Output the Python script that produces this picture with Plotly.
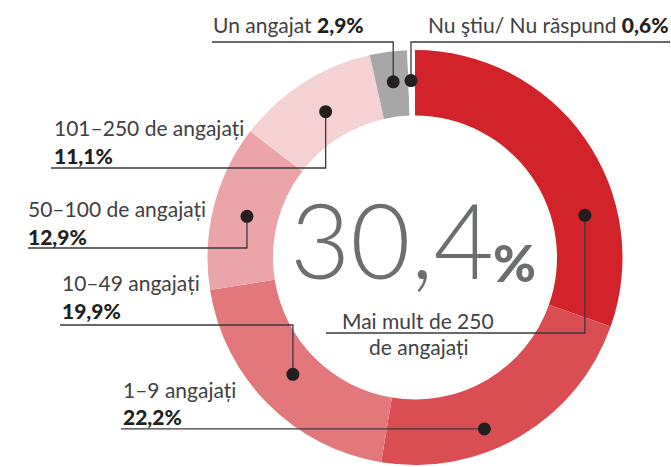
import math
import plotly.graph_objects as go

# ---- data ----
categories = ["Mai mult de 250 de angajați", "1–9 angajați", "10–49 angajați",
              "50–100 de angajați", "101–250 de angajați", "Un angajat", "Nu ştiu/ Nu răspund"]
values = [30.4, 22.2, 19.9, 12.9, 11.1, 2.9, 0.6]
value_labels = ["30,4%", "22,2%", "19,9%", "12,9%", "11,1%", "2,9%", "0,6%"]
colors = ["#d2232a", "#da4d53", "#e3787c", "#eba5a8", "#f4d2d4", "#a7a7a7", "#ffffff"]

# ---- layout constants (pixels) ----
W, H = 671, 467
CX, CY, R_OUT, R_IN = 415, 257.5, 207.5, 142
# callout: fraction along slice, radius of dot, elbow y (None = horizontal only), line end x
dot_frac = [0.695, 0.607, 0.515, 0.49, 0.527, 0.53, 0.4]
dot_rad = [175, 185, 169, 173, 171, 177, 177]
elbow_y = [333, None, 325, 248, 168, 42, 42]
end_x = [326, 121, 60, 28, 51, 212, 670]

fig = go.Figure()
fig.add_trace(go.Pie(
    values=values, labels=categories, marker=dict(colors=colors, line=dict(width=0)),
    sort=False, direction="clockwise", rotation=0, hole=R_IN / R_OUT,
    textinfo="none", hoverinfo="label+percent", showlegend=False,
    domain=dict(x=[(CX - R_OUT) / W, (CX + R_OUT) / W],
                y=[(H - CY - R_OUT) / H, (H - CY + R_OUT) / H]),
))
# invisible trace to create pixel-mapped cartesian axes
fig.add_trace(go.Scatter(x=[0, W], y=[0, H], mode="markers", marker=dict(opacity=0),
                         hoverinfo="skip", showlegend=False))

# compute dot positions from cumulative data
total = sum(values)
cum = 0
dots_x, dots_y = [], []
for v, f, r in zip(values, dot_frac, dot_rad):
    ang = (cum + f * v) / total * 2 * math.pi
    cum += v
    dots_x.append(CX + r * math.sin(ang))
    dots_y.append(CY - r * math.cos(ang))

LINE = "#3a3a3a"
shapes = []
DR = 6.5
for i in range(len(values)):
    x0, y0 = dots_x[i], dots_y[i]
    if elbow_y[i] is None:
        path = f"M{x0},{y0} L{end_x[i]},{y0}"
    else:
        path = f"M{x0},{y0} L{x0},{elbow_y[i]} L{end_x[i]},{elbow_y[i]}"
    shapes.append(dict(type="path", path=path, xref="x", yref="y", layer="above",
                       line=dict(color=LINE, width=1.3)))
for x0, y0 in zip(dots_x, dots_y):
    shapes.append(dict(type="circle", xref="x", yref="y", layer="above",
                       x0=x0 - DR, x1=x0 + DR, y0=y0 - DR, y1=y0 + DR,
                       fillcolor="#231f20", line=dict(width=0)))

FONT = "Lato"
TXT = "#414042"
ann = []
def t(text, x, y, anchor="left", size=21, color=TXT, weight=None):
    f = dict(family=FONT, size=size, color=color)
    if weight:
        f["weight"] = weight
    ann.append(dict(text=text, x=x, y=y, xref="x", yref="y", xanchor=anchor,
                    yanchor="middle", showarrow=False, font=f))

B = lambda s: '<span style="font-weight:900;color:#231f20">' + s + "</span>"
t("Un angajat " + B(value_labels[5]), 211, 24)
t("Nu ştiu/ Nu răspund " + B(value_labels[6]), 671, 24, anchor="right")
t("101–250 de angajați", 52, 127)
t(B(value_labels[4]), 52, 155)
t("50–100 de angajați", 26, 208)
t(B(value_labels[3]), 26, 236)
t("10–49 angajați", 60, 282)
t(B(value_labels[2]), 60, 310)
t("1–9 angajați", 121, 389)
t(B(value_labels[1]), 121, 416)
t("Mai mult de 250", 418, 320, anchor="center")
t("de angajați", 419, 346, anchor="center")
# big central number
t("30,4", 496, 238, anchor="right", size=104, color="#6d6e71", weight=300)
t('<span style="font-weight:900">%</span>', 491, 262, size=52, color="#6d6e71")

fig.update_layout(
    width=W, height=H, margin=dict(l=0, r=0, t=0, b=0),
    paper_bgcolor="white", plot_bgcolor="rgba(0,0,0,0)",
    xaxis=dict(range=[0, W], visible=False, domain=[0, 1], fixedrange=True),
    yaxis=dict(range=[H, 0], visible=False, domain=[0, 1], fixedrange=True),
    annotations=ann, shapes=shapes,
)
fig.write_html("out.html", config={"displayModeBar": False},
               post_script="document.body.style.margin='0';document.body.style.padding='0';")
